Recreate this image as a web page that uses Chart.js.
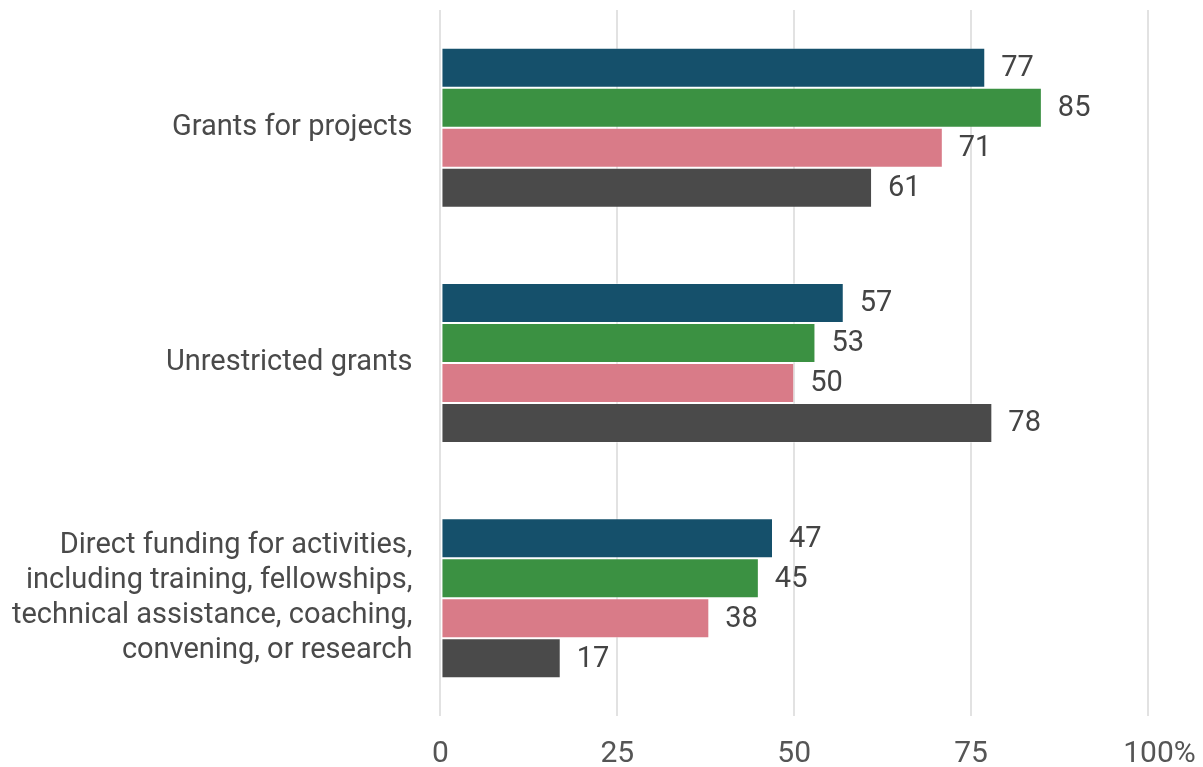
<!DOCTYPE html>
<html lang="en">
<head>
  <meta charset="UTF-8">
  <title>Funding types</title>
  <script src="https://cdn.jsdelivr.net/npm/chart.js"></script>
  <style>
    html, body { margin: 0; padding: 0; background: #fff; }
    #wrap { width: 1203px; height: 767px; }
  </style>
</head>
<body>
  <div id="wrap"><canvas id="barGraph" width="1203" height="767"></canvas></div>
  <script>
    // Categories (multi-line labels) and one array per series
    const categories = [
      "Grants for projects",
      "Unrestricted grants",
      ["Direct funding for activities,", "including training, fellowships,", "technical assistance, coaching,", "convening, or research"]
    ];
    const seriesA = [77, 57, 47];
    const seriesB = [85, 53, 45];
    const seriesC = [71, 50, 38];
    const seriesD = [61, 78, 17];
    const seriesColors = ["#15506b", "#3b9142", "#d97b88", "#4a4a4a"];
    const xTicks = [0, 25, 50, 75, 100];

    // draws the number just past the end of each bar
    const valueLabels = {
      id: "valueLabels",
      afterDatasetsDraw(chart) {
        const ctx = chart.ctx;
        ctx.save();
        ctx.font = "29px Roboto";
        ctx.fillStyle = "#444";
        ctx.textAlign = "left";
        ctx.textBaseline = "middle";
        chart.data.datasets.forEach((ds, i) => {
          chart.getDatasetMeta(i).data.forEach((bar, j) => {
            ctx.fillText(String(ds.data[j]), bar.x + 16, bar.y + 1);
          });
        });
        ctx.restore();
      }
    };

    const mk = (data, i) => ({
      label: "s" + (i + 1),
      data: data,
      backgroundColor: seriesColors[i],
      borderColor: "rgba(255,255,255,0.35)",
      borderWidth: 1,
      borderSkipped: false
    });

    new Chart(document.getElementById("barGraph"), {
      type: "bar",
      data: {
        labels: categories,
        datasets: [seriesA, seriesB, seriesC, seriesD].map(mk)
      },
      options: {
        indexAxis: "y",
        responsive: false,
        animation: false,
        layout: { padding: { top: 10, right: 55, bottom: -25, left: -16 } },
        datasets: { bar: { barPercentage: 1, categoryPercentage: 0.68 } },
        plugins: {
          legend: { display: false },
          tooltip: { enabled: false }
        },
        scales: {
          x: {
            min: 0,
            max: 100,
            afterBuildTicks: (axis) => { axis.ticks = xTicks.map(v => ({ value: v })); },
            // side room is handled by layout padding instead
            afterFit: (axis) => { axis.paddingLeft = 0; axis.paddingRight = 0; },
            grid: { color: "#e2e2e2", lineWidth: 2, drawTicks: false },
            border: { display: false },
            ticks: {
              color: "#555",
              font: { family: "Roboto", size: 30 },
              padding: 20,
              maxRotation: 0,
              // leading spaces keep the number itself centred on the last line
              callback: (v) => v === 100 ? "\u2002\u2005100%" : String(v)
            }
          },
          y: {
            grid: { display: false, drawTicks: false },
            border: { display: false },
            // labels sit centred on their bands, no extra room needed above/below
            afterFit: (axis) => { axis.paddingTop = 0; axis.paddingBottom = 0; },
            ticks: {
              color: "#4a4a4a",
              font: { family: "Roboto", size: 29, lineHeight: 1.2 },
              padding: 28
            }
          }
        }
      },
      plugins: [valueLabels]
    });
  </script>
</body>
</html>
